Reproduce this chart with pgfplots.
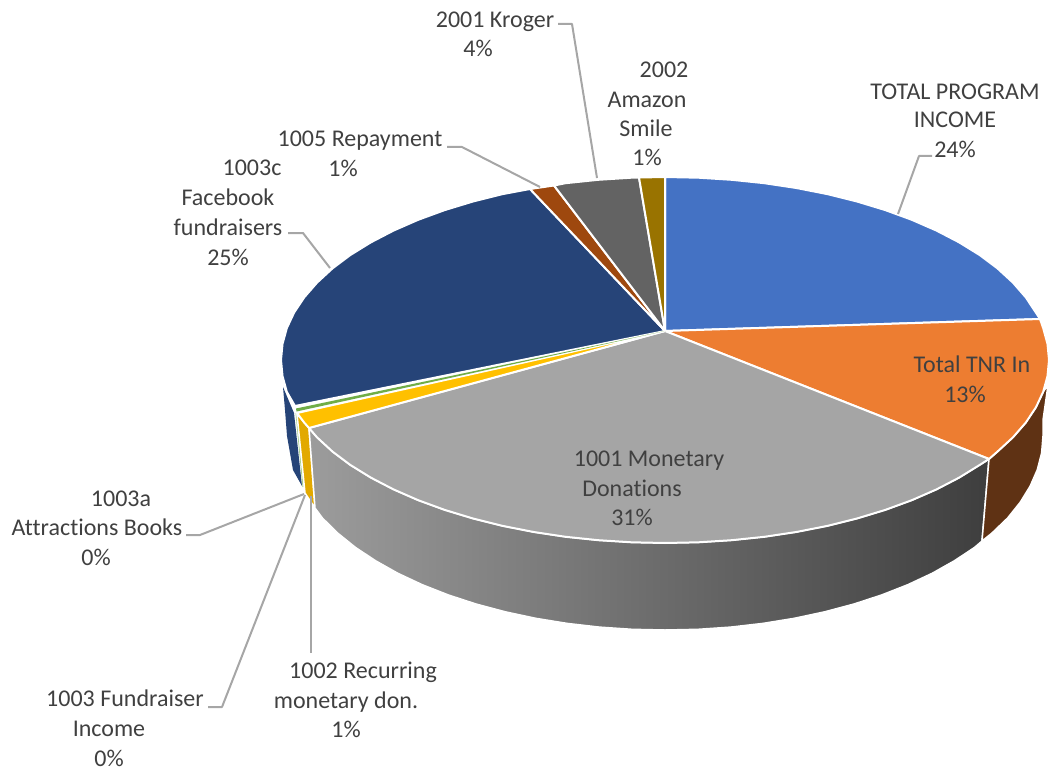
\documentclass[border=0pt]{standalone}
\usepackage{pgfplots}
\pgfplotsset{compat=1.18}
\usepackage{fontspec}
\setmainfont[Ligatures=NoCommon]{Carlito}
\definecolor{cblue}{HTML}{4472C4}
\definecolor{corange}{HTML}{ED7D31}
\definecolor{cgray}{HTML}{A5A5A5}
\definecolor{cyellow}{HTML}{FFC000}
\definecolor{cgreen}{HTML}{70AD47}
\definecolor{cdblue}{HTML}{264478}
\definecolor{cbrown}{HTML}{9E480E}
\definecolor{cdgray}{HTML}{636363}
\definecolor{cgold}{HTML}{997300}
\definecolor{sorange}{HTML}{5F3214}
\definecolor{syellow}{HTML}{E2A900}
\definecolor{sgreen}{HTML}{A9CF90}
\definecolor{sgl}{HTML}{9C9C9C}
\definecolor{sgm}{HTML}{686868}
\definecolor{sgr}{HTML}{3E3E3E}
\definecolor{leader}{HTML}{A6A6A6}
\definecolor{txt}{HTML}{404040}
\newcommand{\lab}[3]{\node[anchor=base,inner sep=0pt,yshift=-1pt,text=txt,font=\fontsize{24}{28}\selectfont] at (axis cs:#1,#2) {#3};}
\begin{document}
\begin{tikzpicture}
\useasboundingbox (0,0) rectangle (1049pt,770pt);
\begin{axis}[at={(0,0)},anchor=south west,hide axis,scale only axis,width=1049pt,height=770pt,
  xmin=0,xmax=1049,ymin=0,ymax=770,y dir=reverse,clip=false,
  every axis plot/.append style={no markers,sharp plot,line join=round}]
% side walls
\addplot[fill=cdblue,draw=none] coordinates {(283,387)(285,410)(287,436)(293,470)(302,486)(294,413)(283,387)};
\addplot[draw=sgreen,line width=1pt] coordinates {(296,413)(303,487)};
\addplot[fill=syellow,draw=white,line width=1.5pt] coordinates {(297,414)(309,428)(315,508)(305,493)(297,414)};
\addplot[draw=white,line width=1.5pt,left color=sgl,middle color=sgm,right color=sgr] coordinates {
(309,428)(317,437.3)(332.4,451.5)(350.4,465)(370.8,477.6)(393.5,489.4)(418.2,500.2)(444.7,509.9)(473,518.5)(502.7,525.9)(533.7,532)(565.6,536.8)(598.3,540.2)(631.5,542.3)(665,543)(698.5,542.3)(731.7,540.2)(764.4,536.8)(796.3,532)(827.3,525.9)(857,518.5)(885.3,509.9)(911.8,500.2)(936.5,489.4)(959.2,477.6)(979.6,465)(989,459)
(982,541)(974.7,547.3)(954.5,560.7)(932.3,573.2)(908,584.6)(881.8,594.9)(854,604)(824.7,611.8)(794.3,618.3)(762.8,623.4)(730.6,627.1)(698,629.3)(665,630)(632,629.3)(599.4,627.1)(567.2,623.4)(535.7,618.3)(505.3,611.8)(476,604)(448.2,594.9)(422,584.6)(397.7,573.2)(375.5,560.7)(355.3,547.3)(337.6,533)(322.4,518)(315,508)(309,428)};
\addplot[fill=sorange,draw=white,line width=1.5pt] coordinates {
(989,459)(997.6,451.5)(1013,437.3)(1025.8,422.6)(1035.9,407.4)(1043.2,391.8)(1048,385)(1043,420)(1043,436)(1041.6,453)(1037.3,469.7)(1030.1,486.2)(1020.2,502.3)(1007.6,518)(992,533)(982,541)(989,459)};
% top faces
\addplot[fill=cblue,draw=white,line width=2pt] coordinates {(665,331)(665,177)(698.5,177.7)(731.7,179.8)(764.4,183.2)(796.3,188)(827.3,194.1)(857,201.5)(885.3,210.1)(911.8,219.8)(936.5,230.6)(959.2,242.4)(979.6,255)(997.6,268.5)(1013,282.7)(1025.8,297.4)(1035.9,312.6)(1040,319)(665,331)};
\addplot[fill=corange,draw=white,line width=2pt] coordinates {(665,331)(1040,319)(1043.2,328.2)(1047.5,344)(1049,360)(1047.5,376)(1043.2,391.8)(1035.9,407.4)(1025.8,422.6)(1013,437.3)(997.6,451.5)(989,459)(665,331)};
\addplot[fill=cgray,draw=white,line width=2pt] coordinates {(665,331)(309,428)(317,437.3)(332.4,451.5)(350.4,465)(370.8,477.6)(393.5,489.4)(418.2,500.2)(444.7,509.9)(473,518.5)(502.7,525.9)(533.7,532)(565.6,536.8)(598.3,540.2)(631.5,542.3)(665,543)(698.5,542.3)(731.7,540.2)(764.4,536.8)(796.3,532)(827.3,525.9)(857,518.5)(885.3,509.9)(911.8,500.2)(936.5,489.4)(959.2,477.6)(979.6,465)(989,459)(665,331)};
\addplot[fill=cyellow,draw=white,line width=2pt] coordinates {(665,331)(297,413)(304.2,422.6)(309,428)(665,331)};
\addplot[fill=cdblue,draw=white,line width=2pt] coordinates {(665,331)(295,406)(286.8,391.8)(282.5,376)(281,360)(282.5,344)(286.8,328.2)(294.1,312.6)(304.2,297.4)(317,282.7)(332.4,268.5)(350.4,255)(370.8,242.4)(393.5,230.6)(418.2,219.8)(444.7,210.1)(473,201.5)(502.7,194.1)(530,189)(665,331)};
\addplot[fill=cgreen,draw=none] coordinates {(665,331)(296,408.5)(296.5,411.5)(665,331)};
\addplot[fill=cbrown,draw=white,line width=2pt] coordinates {(665,331)(530,189)(554,185.5)(665,331)};
\addplot[fill=cdgray,draw=white,line width=2pt] coordinates {(665,331)(554,185.5)(565.6,183.2)(598.3,179.8)(631.5,177.7)(639,177.5)(665,331)};
\addplot[fill=cgold,draw=white,line width=2pt] coordinates {(665,331)(639,177.5)(665,177)(665,331)};
% leader lines
\addplot[draw=leader,line width=2pt] coordinates {(898,214)(919,156)(932,156)};
\addplot[draw=leader,line width=2pt] coordinates {(558,24)(572,24)(597,178)};
\addplot[draw=leader,line width=2pt] coordinates {(447,147)(462,147)(540,187)};
\addplot[draw=leader,line width=2pt] coordinates {(288,233)(303,233)(330,268)};
\addplot[draw=leader,line width=2pt] coordinates {(186,535)(200,535)(304,494)};
\addplot[draw=leader,line width=2pt] coordinates {(208,707)(222,707)(305,495)};
\addplot[draw=leader,line width=2pt] coordinates {(311,653)(311,496)};
% labels
\lab{955}{99}{TOTAL PROGRAM}
\lab{955}{127}{INCOME}
\lab{955}{157}{24\%}
\lab{972}{371}{Total TNR In}
\lab{965}{401}{13\%}
\lab{649}{465}{1001 Monetary}
\lab{632}{495}{Donations}
\lab{632}{524}{31\%}
\lab{664}{77}{2002}
\lab{647}{107}{Amazon}
\lab{646}{136}{Smile}
\lab{647}{165}{1\%}
\lab{495}{27}{2001 Kroger}
\lab{478}{56}{4\%}
\lab{360}{146}{1005 Repayment}
\lab{343}{176}{1\%}
\lab{252}{175}{1003c}
\lab{228}{205}{Facebook}
\lab{228}{235}{fundraisers}
\lab{228}{264}{25\%}
\lab{121}{505}{1003a}
\lab{97}{534}{Attractions Books}
\lab{96}{564}{0\%}
\lab{363}{677}{1002 Recurring}
\lab{346}{707}{monetary don.}
\lab{346}{736}{1\%}
\lab{125}{705}{1003 Fundraiser}
\lab{109}{735}{Income}
\lab{109}{765}{0\%}
\end{axis}
\end{tikzpicture}
\end{document}
